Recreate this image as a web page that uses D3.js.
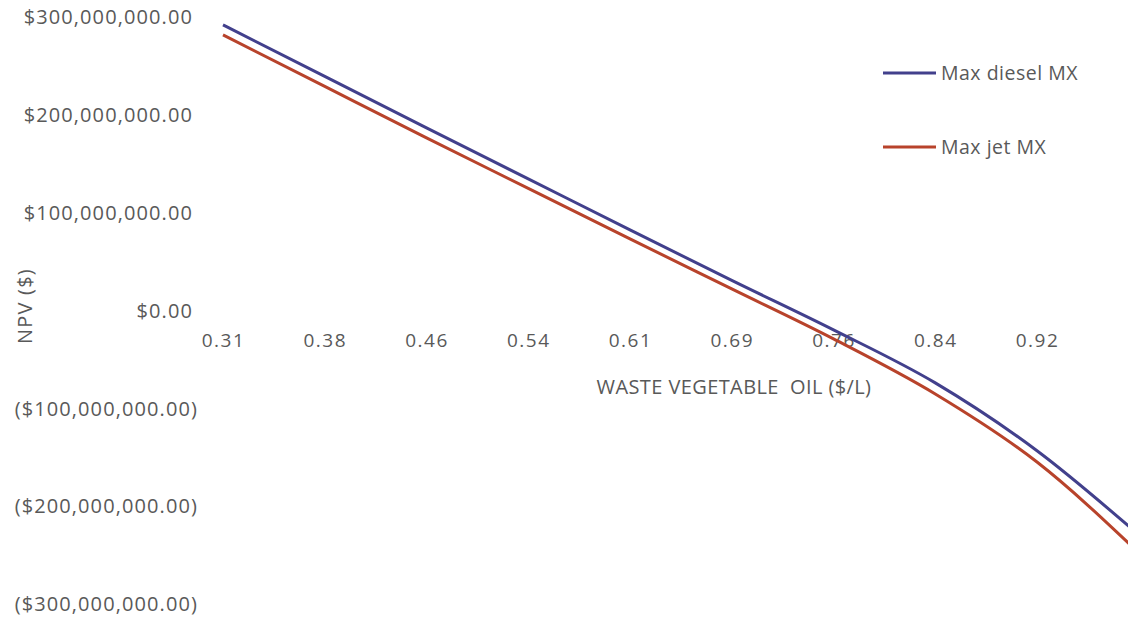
<!DOCTYPE html>
<html>
<head>
<meta charset="utf-8">
<script src="https://cdn.jsdelivr.net/npm/d3@7"></script>
<style>
  html, body { margin: 0; padding: 0; background: #fff; }
  svg { display: block; }
  text { font-family: "Open Sans", "Noto Sans", sans-serif; fill: #595959; }
</style>
</head>
<body>
<svg id="chart" width="1128" height="620"></svg>
<script>
// ---- data ----
const categories = ["0.31", "0.38", "0.46", "0.54", "0.61", "0.69", "0.76", "0.84", "0.92", "0.99"];
const xTickLabels = ["0.31", "0.38", "0.46", "0.54", "0.61", "0.69", "0.76", "0.84", "0.92"];
const dieselNPV = [292.4e6, 239.8e6, 187.1e6, 135.0e6, 82.8e6, 31.2e6, -19.4e6, -73.6e6, -143.0e6, -229.0e6];
const jetNPV    = [282.2e6, 229.5e6, 176.9e6, 125.3e6, 73.6e6, 22.5e6, -28.6e6, -84.9e6, -154.5e6, -247.4e6];
const yTicks = [300e6, 200e6, 100e6, 0, -100e6, -200e6, -300e6];
const seriesNames = ["Max diesel MX", "Max jet MX"];
const seriesColors = ["#42408c", "#b8432b"];

// ---- layout ----
const svg = d3.select("#chart");
const x = d3.scalePoint().domain(categories).range([223, 1138.75]);
const y = d3.scaleLinear().domain([-300e6, 300e6]).range([604.3, 17.5]);

const fmt = v => {
  const s = "$" + d3.format(",.2f")(Math.abs(v));
  return v < 0 ? "(" + s + ")" : s;
};

// y axis (labels only)
const yAxis = svg.append("g")
  .attr("transform", "translate(198,0)")
  .call(d3.axisLeft(y).tickValues(yTicks).tickFormat(fmt).tickSize(0).tickPadding(0));
yAxis.select(".domain").remove();
yAxis.selectAll("text")
  .style("font-size", "20px")
  .style("letter-spacing", "1.1px")
  .attr("fill", "#595959")
  .attr("x", d => d < 0 ? 0 : -5);

// x axis (labels only)
const xAxis = svg.append("g")
  .attr("transform", `translate(0,${y(0)})`)
  .call(d3.axisBottom(x).tickValues(xTickLabels).tickSize(0).tickPadding(23));
xAxis.select(".domain").remove();
xAxis.selectAll("text")
  .style("font-size", "19px")
  .style("letter-spacing", "1.5px")
  .attr("fill", "#595959");

// axis titles
svg.append("text")
  .attr("x", 734).attr("y", 394)
  .attr("text-anchor", "middle")
  .style("font-size", "20px")
  .style("letter-spacing", "0.4px")
  .style("white-space", "pre")
  .attr("xml:space", "preserve")
  .text("WASTE VEGETABLE  OIL ($/L)");

svg.append("text")
  .attr("transform", "translate(32,306) rotate(-90)")
  .attr("text-anchor", "middle")
  .style("font-size", "20px")
  .style("letter-spacing", "1.2px")
  .text("NPV ($)");

// lines
const line = d3.line()
  .x((d, i) => x(categories[i]))
  .y(d => y(d))
  .curve(d3.curveMonotoneX);

[dieselNPV, jetNPV].forEach((vals, k) => {
  svg.append("path")
    .datum(vals)
    .attr("fill", "none")
    .attr("stroke", seriesColors[k])
    .attr("stroke-width", 3)
    .attr("stroke-linejoin", "round")
    .attr("d", line);
});

// legend
const legend = svg.append("g");
seriesNames.forEach((name, k) => {
  const ly = 73 + k * 74;
  legend.append("line")
    .attr("x1", 883).attr("x2", 936)
    .attr("y1", ly).attr("y2", ly)
    .attr("stroke", seriesColors[k])
    .attr("stroke-width", 3);
  legend.append("text")
    .attr("x", 941).attr("y", ly)
    .attr("dy", "0.35em")
    .style("font-size", "19.5px")
    .style("letter-spacing", "0.5px")
    .text(name);
});
</script>
</body>
</html>
